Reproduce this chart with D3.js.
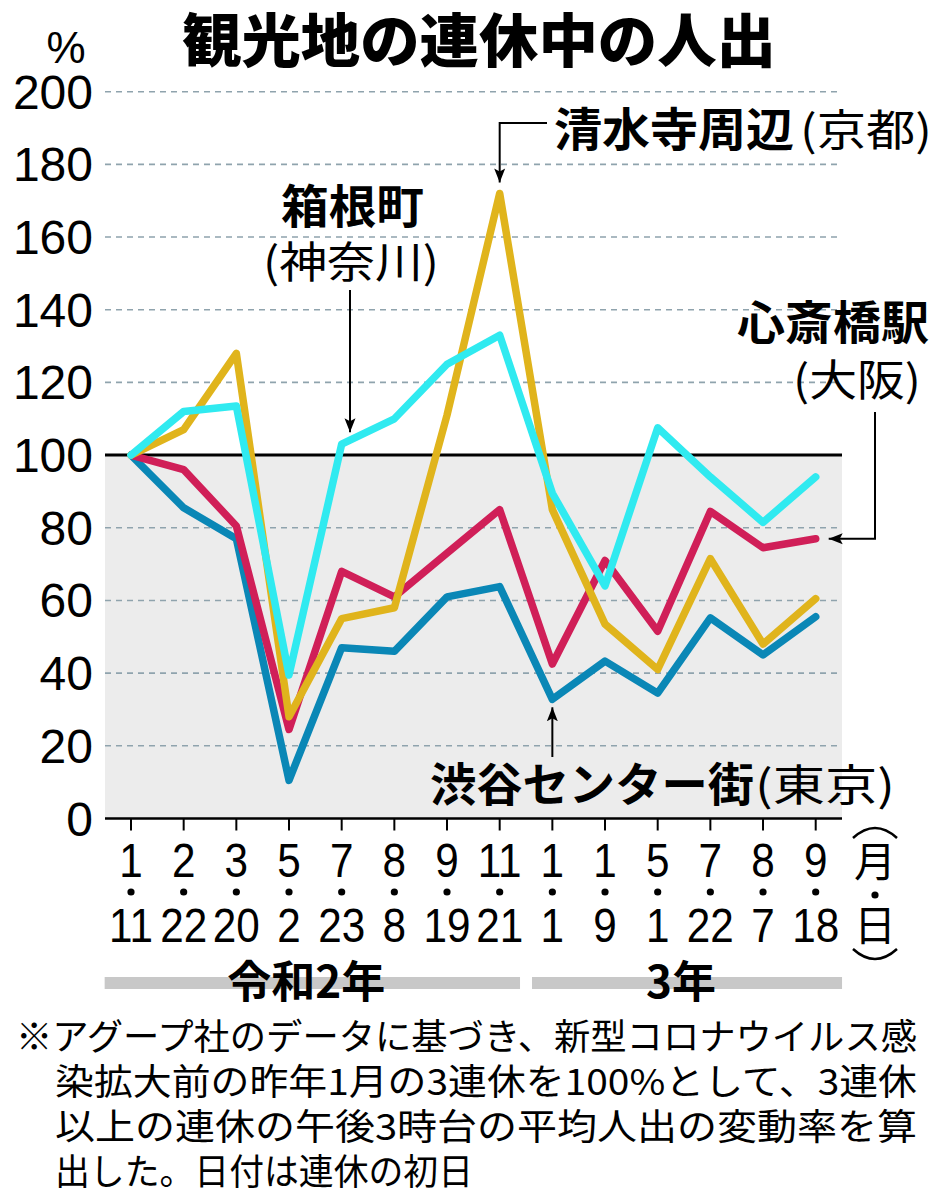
<!DOCTYPE html>
<html>
<head>
<meta charset="utf-8">
<script src="https://cdn.jsdelivr.net/npm/d3@7"></script>
<style>
body { margin: 0; background: #fff; }
</style>
</head>
<body>
<script>
// data
var months = ["1", "2", "3", "5", "7", "8", "9", "11", "1", "1", "5", "7", "8", "9"];
var days = ["11", "22", "20", "2", "23", "8", "19", "21", "1", "9", "1", "22", "7", "18"];

var kiyomizu = [100, 107, 128, 28, 55, 58, 111, 172, 85, 53.5, 41, 71.5, 48, 60.5];
var hakone = [100, 112, 113.5, 39.5, 103, 110, 125, 133, 89.5, 64, 107.5, 94, 81.5, 94];
var shinsaibashi = [100, 96, 80.5, 24.5, 68, 61, 73, 85, 42.5, 71, 51.5, 84.5, 74.5, 77];
var shibuya = [100, 85.5, 77, 10.5, 47, 46, 61, 63.8, 32.8, 43.3, 34.5, 55.2, 45, 55.5];

var yTicks = [0, 20, 40, 60, 80, 100, 120, 140, 160, 180, 200];

var yearLabels = ["令和2年", "3年"];
var yearFrom = [0, 8];
var yearTo = [7, 13];

var footLines = [
    "※アグープ社のデータに基づき、新型コロナウイルス感",
    "染拡大前の昨年1月の3連休を100%として、3連休",
    "以上の連休の午後3時台の平均人出の変動率を算",
    "出した。日付は連休の初日"
];

//Width and height
var w = 944;
var h = 1200;
var left = 105, right = 842;
var jp = "'Noto Sans CJK JP', sans-serif";
var latin = "'Liberation Sans', Arial, sans-serif";

var xScale = d3.scalePoint()
    .domain(d3.range(months.length))
    .range([131, 815.7]);
var step = xScale.step();

var yScale = d3.scaleLinear()
    .domain([0, 200])
    .range([818.5, 91.7]);

var svg = d3.select("body")
    .append("svg")
    .attr("width", w)
    .attr("height", h);

// arrow head
svg.append("defs").append("marker")
    .attr("id", "arr")
    .attr("markerUnits", "userSpaceOnUse")
    .attr("markerWidth", 15)
    .attr("markerHeight", 12)
    .attr("refX", 14)
    .attr("refY", 6)
    .attr("orient", "auto")
    .append("path")
    .attr("d", "M0,0.5 L14,6 L0,11.5 L3,6 Z")
    .attr("fill", "#000");

// title
svg.append("text")
    .text("観光地の連休中の人出")
    .attr("x", 182)
    .attr("y", 62)
    .attr("textLength", 594)
    .attr("lengthAdjust", "spacingAndGlyphs")
    .attr("font-family", jp)
    .attr("font-weight", 900)
    .attr("font-size", "58px");

svg.append("text")
    .text("%")
    .attr("x", 66)
    .attr("y", 63)
    .attr("text-anchor", "middle")
    .attr("font-family", latin)
    .attr("font-size", "44px");

// grey area below 100
svg.append("rect")
    .attr("x", left)
    .attr("y", yScale(100))
    .attr("width", right - left)
    .attr("height", yScale(0) - yScale(100))
    .attr("fill", "#ececec");

// dashed grid
svg.selectAll("line.grid")
    .data(yTicks.filter(function(d) { return d !== 0 && d !== 100; }))
    .enter()
    .append("line")
    .attr("class", "grid")
    .attr("x1", left)
    .attr("x2", right - 4)
    .attr("y1", function(d) { return yScale(d); })
    .attr("y2", function(d) { return yScale(d); })
    .attr("stroke", "#8fa3ad")
    .attr("stroke-width", 1.6)
    .attr("stroke-dasharray", "6,5");

svg.append("line")
    .attr("x1", left).attr("x2", right)
    .attr("y1", yScale(100)).attr("y2", yScale(100))
    .attr("stroke", "#000")
    .attr("stroke-width", 3);

// y labels
svg.selectAll("text.ylab")
    .data(yTicks)
    .enter()
    .append("text")
    .attr("class", "ylab")
    .text(function(d) { return d; })
    .attr("x", 93)
    .attr("y", function(d) { return yScale(d) + 17; })
    .attr("text-anchor", "end")
    .attr("font-family", latin)
    .attr("font-size", "48px");

// x axis
svg.append("line")
    .attr("x1", left).attr("x2", right)
    .attr("y1", yScale(0)).attr("y2", yScale(0))
    .attr("stroke", "#000")
    .attr("stroke-width", 2.5);

svg.selectAll("line.tick")
    .data(months)
    .enter()
    .append("line")
    .attr("class", "tick")
    .attr("x1", function(d, i) { return xScale(i); })
    .attr("x2", function(d, i) { return xScale(i); })
    .attr("y1", yScale(0))
    .attr("y2", yScale(0) + 12)
    .attr("stroke", "#000")
    .attr("stroke-width", 2);

svg.selectAll("text.month")
    .data(months)
    .enter()
    .append("text")
    .attr("class", "month")
    .text(function(d) { return d; })
    .attr("transform", function(d, i) { return "translate(" + xScale(i) + ",877) scale(0.88,1)"; })
    .attr("text-anchor", "middle")
    .attr("font-family", latin)
    .attr("font-size", "48px");

svg.selectAll("circle.dot")
    .data(months)
    .enter()
    .append("circle")
    .attr("class", "dot")
    .attr("cx", function(d, i) { return xScale(i); })
    .attr("cy", 892)
    .attr("r", 3.6);

svg.selectAll("text.day")
    .data(days)
    .enter()
    .append("text")
    .attr("class", "day")
    .text(function(d) { return d; })
    .attr("transform", function(d, i) { return "translate(" + xScale(i) + ",942) scale(0.88,1)"; })
    .attr("text-anchor", "middle")
    .attr("font-family", latin)
    .attr("font-size", "48px");

// (月・日)
svg.append("path")
    .attr("d", "M853,838 Q875,818 897,838 M853,949 Q875,969 897,949")
    .attr("fill", "none")
    .attr("stroke", "#000")
    .attr("stroke-width", 2.5);
svg.append("text").text("月")
    .attr("x", 875).attr("y", 877)
    .attr("text-anchor", "middle")
    .attr("font-family", jp)
    .attr("font-size", "42px");
svg.append("circle").attr("cx", 875).attr("cy", 895).attr("r", 3.6);
svg.append("text").text("日")
    .attr("x", 875).attr("y", 941)
    .attr("text-anchor", "middle")
    .attr("font-family", jp)
    .attr("font-size", "42px");

// year bands
var half = step / 2;
var bandL = yearFrom.map(function(f) { return xScale(f) - half + (f > 0 ? 6 : 0); });
var bandR = yearTo.map(function(t) { return xScale(t) + half - (t < months.length - 1 ? 6 : 0); });

svg.selectAll("rect.year")
    .data(yearLabels)
    .enter()
    .append("rect")
    .attr("class", "year")
    .attr("x", function(d, i) { return bandL[i]; })
    .attr("y", 977)
    .attr("width", function(d, i) { return bandR[i] - bandL[i]; })
    .attr("height", 12)
    .attr("fill", "#c8c8c8");

svg.selectAll("text.year")
    .data(yearLabels)
    .enter()
    .append("text")
    .attr("class", "year")
    .text(function(d) { return d; })
    .attr("x", function(d, i) { return (bandL[i] + bandR[i]) / 2 - 6; })
    .attr("y", 998)
    .attr("text-anchor", "middle")
    .attr("font-family", jp)
    .attr("font-weight", 700)
    .attr("font-size", "44px");

// lines
var series = [
    { values: shibuya, color: "#0a87b6" },
    { values: shinsaibashi, color: "#d01f58" },
    { values: kiyomizu, color: "#e0b41c" },
    { values: hakone, color: "#30eaf0" }
];

var line = d3.line()
    .x(function(d, i) { return xScale(i); })
    .y(function(d) { return yScale(d); });

svg.selectAll("path.series")
    .data(series)
    .enter()
    .append("path")
    .attr("class", "series")
    .attr("d", function(d) { return line(d.values); })
    .attr("fill", "none")
    .attr("stroke", function(d) { return d.color; })
    .attr("stroke-width", 7.5)
    .attr("stroke-linejoin", "round")
    .attr("stroke-linecap", "round");

// annotations
function label(txt, x, y, len, bold) {
    svg.append("text")
        .text(txt)
        .attr("x", x)
        .attr("y", y)
        .attr("textLength", len)
        .attr("lengthAdjust", "spacingAndGlyphs")
        .attr("font-family", jp)
        .attr("font-weight", bold ? 700 : 400)
        .attr("font-size", bold ? "46px" : "43px");
}
function arrow(d) {
    svg.append("path")
        .attr("d", d)
        .attr("fill", "none")
        .attr("stroke", "#000")
        .attr("stroke-width", 2)
        .attr("marker-end", "url(#arr)");
}

label("清水寺周辺", 554, 146, 240, true);
label("(京都)", 800, 146, 132, false);
arrow("M547,123 H" + xScale(7) + " V" + (yScale(kiyomizu[7]) - 11));

label("箱根町", 281, 223, 143, true);
label("(神奈川)", 263, 278, 176, false);
arrow("M350,290 V" + (yScale(hakone[4]) - 12));

label("心斎橋駅", 737, 339, 192, true);
label("(大阪)", 793, 396, 128, false);
arrow("M875,412 V" + yScale(shinsaibashi[13]) + " H" + (xScale(13) + 13));

label("渋谷センター街", 430, 801, 324, true);
label("(東京)", 755, 801, 140, false);
arrow("M" + xScale(8) + ",757 V" + (yScale(shibuya[8]) + 8));

// footnote
var footLen = [901, 862, 862, 418];
svg.selectAll("text.foot")
    .data(footLines)
    .enter()
    .append("text")
    .attr("class", "foot")
    .text(function(d) { return d; })
    .attr("x", function(d, i) { return i === 0 ? 16 : 55; })
    .attr("y", function(d, i) { return 1050 + i * 45; })
    .attr("textLength", function(d, i) { return footLen[i]; })
    .attr("lengthAdjust", "spacingAndGlyphs")
    .attr("font-family", jp)
    .attr("font-size", "36px");
</script>
</body>
</html>
